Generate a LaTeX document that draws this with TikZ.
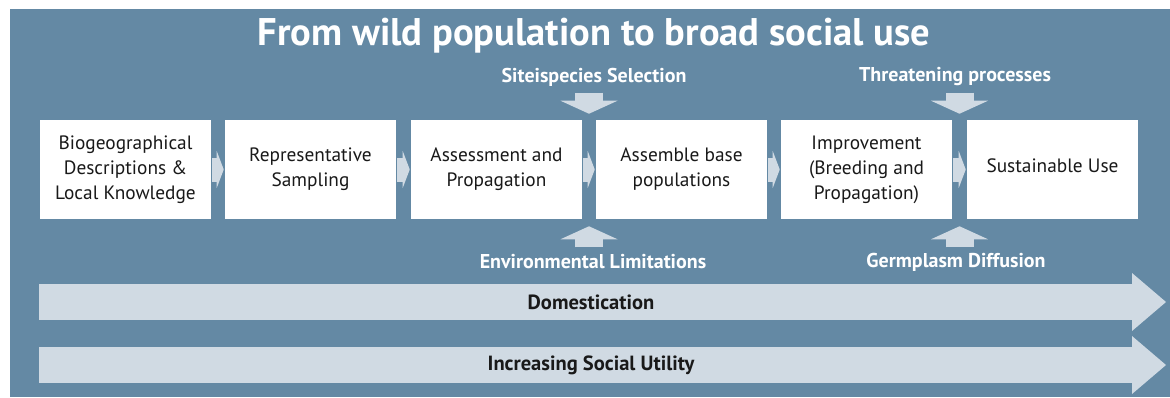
\documentclass[tikz,border=0pt]{standalone}
\usepackage{fontspec}
\setmainfont{PT Sans}
\usetikzlibrary{arrows.meta,calc}

\definecolor{panelblue}{RGB}{100,137,164}
\definecolor{paleblue}{RGB}{208,218,227}

\tikzset{
    stagebox/.style={fill=white, minimum width=128.25pt, minimum height=74.25pt, inner sep=0pt,
        align=center, text=black!90, font=\fontsize{14.5}{18.75}\selectfont},
    flowlabel/.style={text=white, font=\fontsize{15}{17}\selectfont\bfseries},
    growthlabel/.style={text=black!90, font=\fontsize{15.4}{17}\selectfont\bfseries},
    stepflow/.style={draw=paleblue, line width=18pt, shorten <=0.75pt, shorten >=0.75pt,
        -{Triangle[length=5.25pt 0 0, width=27.75pt 0 0, line width=0pt]}},
    pushflow/.style={draw=paleblue, line width=21pt,
        -{Triangle[length=9.75pt 0 0, width=42.75pt 0 0, line width=0pt]}},
    growth/.style={draw=paleblue, line width=27pt,
        -{Triangle[length=25.5pt 0 0, width=43.5pt 0 0, line width=0pt]}}
}

\begin{document}
\begin{tikzpicture}[x=0.75pt, y=-0.75pt]
        \useasboundingbox (0,0) rectangle (1170,397);
        \fill[panelblue] (10,9) rectangle (1170,397);

        \node[text=white, font=\fontsize{28.9}{32}\selectfont\bfseries] (title) at (594,36) {From wild population to broad social use};

        % stages
        \node[stagebox] (bio) at (125.5,169.5) {Biogeographical\\Descriptions \&\\Local Knowledge};
        \node[stagebox] (samp) at (310.5,169.5) {Representative\\Sampling};
        \node[stagebox] (assess) at (496.5,169.5) {Assessment and\\Propagation};
        \node[stagebox] (assemble) at (681.5,169.5) {Assemble base\\populations};
        \node[stagebox] (improve) at (866.5,169.5) {Improvement\\(Breeding and\\Propagation)};
        \node[stagebox] (use) at (1052.5,169.5) {\raisebox{3pt}[\height][\depth]{Sustainable Use}};

        \draw[stepflow] (bio) -- (samp);
        \draw[stepflow] (samp) -- (assess);
        \draw[stepflow] (assess) -- (assemble);
        \draw[stepflow] (assemble) -- (improve);
        \draw[stepflow] (improve) -- (use);

        % influences from above and below
        \node[flowlabel] (sel) at (594,77) {Siteispecies Selection};
        \node[flowlabel] (threat) at (955,77) {Threatening processes};
        \node[flowlabel] (env) at (593,262) {Environmental Limitations};
        \node[flowlabel] (germ) at (956,262) {Germplasm Diffusion};

        \coordinate (selTip) at ($(assess.north east)!0.5!(assemble.north west)+(0,-6)$);
        \coordinate (selTop) at ($(selTip)+(0,-21)$);
        \coordinate (threatTip) at ($(improve.north east)!0.5!(use.north west)+(0,-6)$);
        \coordinate (threatTop) at ($(threatTip)+(0,-21)$);
        \coordinate (envTip) at ($(assess.south east)!0.5!(assemble.south west)+(0,7)$);
        \coordinate (envBase) at ($(envTip)+(0,21)$);
        \coordinate (germTip) at ($(improve.south east)!0.5!(use.south west)+(0,7)$);
        \coordinate (germBase) at ($(germTip)+(0,21)$);

        \draw[pushflow] (selTop) -- (selTip);
        \draw[pushflow] (threatTop) -- (threatTip);
        \draw[pushflow] (envBase) -- (envTip);
        \draw[pushflow] (germBase) -- (germTip);

        % long arrows
        \coordinate (domStart) at (39,302);
        \coordinate (domEnd) at (1166,302);
        \coordinate (utilStart) at (39,365);
        \coordinate (utilEnd) at (1166,365);
        \draw[growth] (domStart) -- (domEnd);
        \draw[growth] (utilStart) -- (utilEnd);
        \node[growthlabel] (dom) at (591,302) {Domestication};
        \node[growthlabel] (util) at (591,365) {Increasing Social Utility};
\end{tikzpicture}
\end{document}
